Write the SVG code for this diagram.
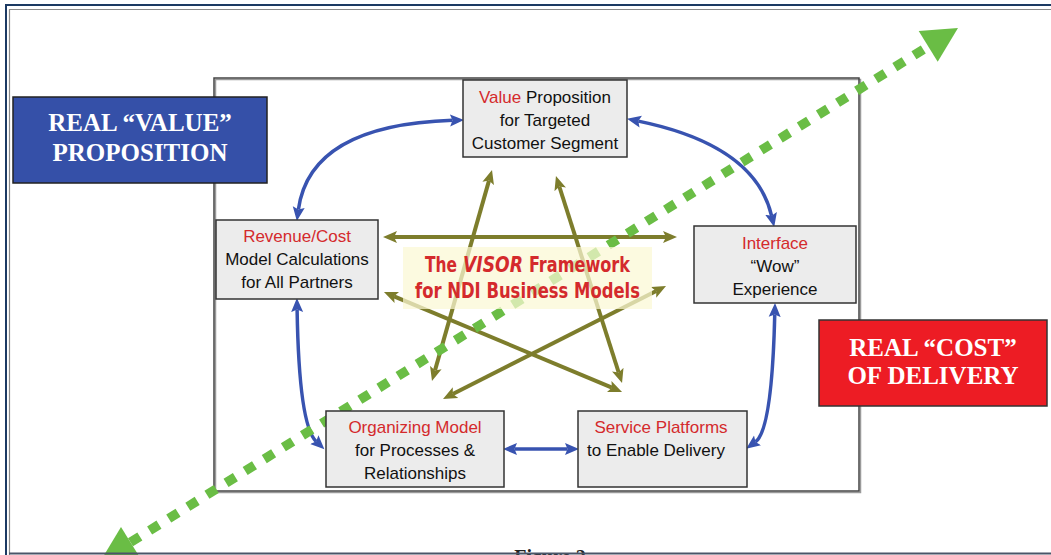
<svg xmlns="http://www.w3.org/2000/svg" width="1051" height="555" viewBox="0 0 1051 555">
<defs>
<style>
.box{fill:#ececec;stroke:#333;stroke-width:1.5}
.sh{fill:none;stroke:#9a9a9a;stroke-width:1.5}
.t{font-family:"Liberation Sans",Arial,sans-serif;font-size:17px;fill:#111;text-anchor:middle}
.r{fill:#d42a2c}
.big{font-family:"Liberation Serif","Times New Roman",serif;font-size:25px;font-weight:bold;fill:#fff;text-anchor:middle}
.ol{fill:none;stroke:#7d7d2c;stroke-width:4;marker-start:url(#oh);marker-end:url(#oh)}
.bl{fill:none;stroke:#3853b0;stroke-width:3.5;marker-start:url(#bh);marker-end:url(#bh)}
.vis{font-family:"Liberation Sans Narrow","DejaVu Sans Condensed","Liberation Sans",sans-serif;font-size:22px;font-weight:bold;fill:#d42a2c}
</style>
<marker id="oh" markerUnits="userSpaceOnUse" markerWidth="16" markerHeight="14" viewBox="0 -7 16 14" refX="3" refY="0" orient="auto-start-reverse">
<path d="M0,-6 L14,0 L0,6 L3,0 z" fill="#7d7d2c"/>
</marker>
<marker id="bh" markerUnits="userSpaceOnUse" markerWidth="17" markerHeight="14" viewBox="0 -7 17 14" refX="2.5" refY="0" orient="auto-start-reverse">
<path d="M0,-6 L14,0 L0,6 L2.5,0 z" fill="#3853b0"/>
</marker>
</defs>
<rect width="1051" height="555" fill="#fff"/>
<g id="page-frame">
<line x1="5" y1="5" x2="1051" y2="5" stroke="#1c3a63" stroke-width="2"/>
<line x1="6" y1="4" x2="6" y2="555" stroke="#1c3a63" stroke-width="2"/>
<line x1="9" y1="9.5" x2="1051" y2="9.5" stroke="#8a8a8a" stroke-width="1.2"/>
<line x1="9.5" y1="9" x2="9.5" y2="555" stroke="#8a8a8a" stroke-width="1.2"/>
</g>
<g id="frame">
<rect x="215.5" y="79.5" width="645" height="413" class="sh"/>
<rect x="214" y="78" width="645" height="413" fill="none" stroke="#444" stroke-width="1.5"/>
</g>
<g id="connectors">
<g id="star">
<path class="ol" d="M394,237 L666,237"/>
<path class="ol" d="M489,180.6 L435,370.4"/>
<path class="ol" d="M559.3,186.5 L618.7,372.5"/>
<path class="ol" d="M394.1,296.3 L611.9,387.7"/>
<path class="ol" d="M656.2,291 L452.8,394"/>
</g>
<g id="cycle">
<path class="bl" d="M452.5,120.3 Q310,125 298.4,209.6"/>
<path class="bl" d="M638.3,121.1 Q755,145 771.6,215.8"/>
<path class="bl" d="M297.1,309.5 Q299,425 316.1,441.4"/>
<path class="bl" d="M514.5,449 L567.5,449"/>
<path class="bl" d="M774.75,314.5 Q772,430 755.5,441.9"/>
</g>
<g id="value-cost-axis">
<line x1="130.5" y1="542.3" x2="928.2" y2="46.4" stroke="#6abd45" stroke-width="9.5" stroke-dasharray="11 11.5"/>
<polygon points="958,28 937.7,61.7 918.7,31.1" fill="#6abd45"/>
<polygon points="100.7,560.7 121,527 140,557.6" fill="#6abd45"/>
</g>
</g>
<g id="visor-label">
<rect x="403" y="247" width="249" height="62" fill="#fbf8d4" opacity="0.72"/>
<text class="vis" x="425" y="272" textLength="32" lengthAdjust="spacingAndGlyphs">The</text>
<text class="vis" x="463" y="272" font-style="italic" textLength="60" lengthAdjust="spacingAndGlyphs">VISOR</text>
<text class="vis" x="529" y="272" textLength="101" lengthAdjust="spacingAndGlyphs">Framework</text>
<text class="vis" x="415" y="298" textLength="225" lengthAdjust="spacingAndGlyphs">for NDI Business Models</text>
</g>
<g id="value">
<rect x="463" y="80" width="164" height="77" class="box"/>
<text class="t" x="545" y="103"><tspan class="r">Value</tspan> Proposition</text>
<text class="t" x="545" y="126">for Targeted</text>
<text class="t" x="545" y="149">Customer Segment</text>
</g>
<g id="revenue">
<rect x="216" y="220" width="162" height="79" class="box"/>
<text class="t r" x="297" y="242">Revenue/Cost</text>
<text class="t" x="297" y="265">Model Calculations</text>
<text class="t" x="297" y="288">for All Partners</text>
</g>
<g id="interface">
<rect x="694" y="226" width="162" height="77" class="box"/>
<text class="t r" x="775" y="249">Interface</text>
<text class="t" x="775" y="272">“Wow”</text>
<text class="t" x="775" y="295">Experience</text>
</g>
<g id="organizing">
<rect x="326" y="411" width="178" height="76" class="box"/>
<text class="t r" x="415" y="433">Organizing Model</text>
<text class="t" x="415" y="456">for Processes &amp;</text>
<text class="t" x="415" y="479">Relationships</text>
</g>
<g id="service">
<rect x="578" y="411" width="169" height="76" class="box"/>
<text class="t r" x="661" y="433">Service Platforms</text>
<text class="t" x="656" y="456">to Enable Delivery</text>
</g>
<g id="real-value">
<rect x="13" y="97" width="254" height="86" fill="#3550a8" stroke="#222" stroke-width="1.5"/>
<text class="big" x="140" y="131">REAL “VALUE”</text>
<text class="big" x="140" y="161">PROPOSITION</text>
</g>
<g id="real-cost">
<rect x="819" y="320" width="228" height="86" fill="#ed1c24" stroke="#333" stroke-width="1.5"/>
<text class="big" x="933" y="355.5">REAL “COST”</text>
<text class="big" x="933" y="383.5">OF DELIVERY</text>
</g>
<g id="caption">
<text x="550" y="564" font-family="'Liberation Serif','Times New Roman',serif" font-size="20" font-weight="bold" fill="#222" text-anchor="middle">Figure 2</text>
<line x1="9" y1="553.5" x2="1051" y2="553.5" stroke="#4a5568" stroke-width="2"/>
</g>
</svg>
